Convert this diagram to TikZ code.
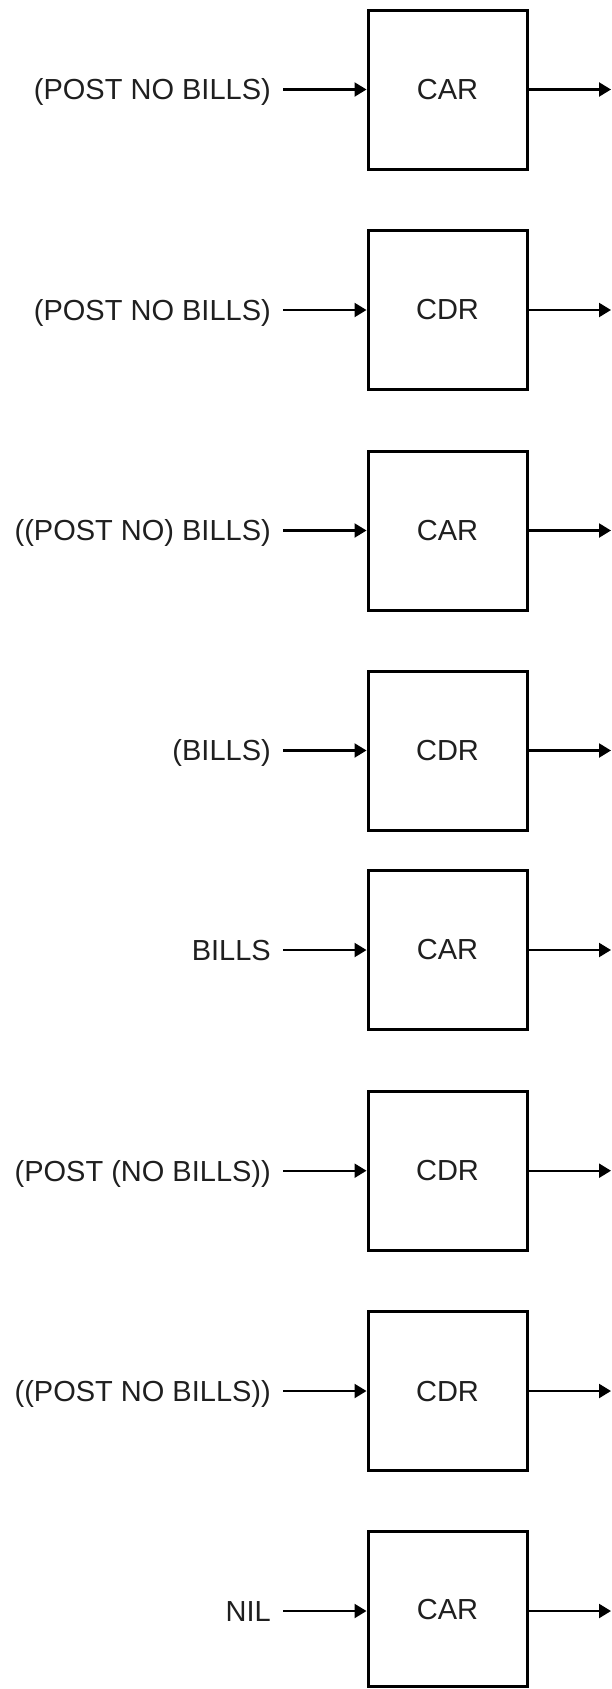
\documentclass[tikz,border=0pt]{standalone}
\usepackage{fontspec}
\setmainfont{Liberation Sans}
\usetikzlibrary{arrows.meta}
\begin{document}
\begin{tikzpicture}[x=1pt,y=-1pt,
  txt/.style={font=\fontsize{29}{34}\selectfont, text=black!88},
  box/.style={draw, line width=3pt, minimum width=159pt, minimum height=159pt, inner sep=0pt, txt},
  lbl/.style={anchor=base east, inner sep=0pt, txt},
  arr/.style={-{Triangle[length=12pt,width=14pt]}, line width=2.2pt}]
\useasboundingbox[fill=white] (0,0) rectangle (611,1689);
% row 1
\node[box] (b1) at (447.5,89.5) {CAR};
\node[lbl] (t1) at (271,99.9) {(POST NO BILLS)};
\coordinate (o1) at (611,89.5);
% row 2
\node[box] (b2) at (447.5,310) {CDR};
\node[lbl] (t2) at (271,320.4) {(POST NO BILLS)};
\coordinate (o2) at (611,310);
% row 3
\node[box] (b3) at (447.5,530.5) {CAR};
\node[lbl] (t3) at (271,540.9) {((POST NO) BILLS)};
\coordinate (o3) at (611,530.5);
% row 4
\node[box] (b4) at (447.5,750.5) {CDR};
\node[lbl] (t4) at (271,760.9) {(BILLS)};
\coordinate (o4) at (611,750.5);
% row 5
\node[box] (b5) at (447.5,950) {CAR};
\node[lbl] (t5) at (271,960.4) {BILLS};
\coordinate (o5) at (611,950);
% row 6
\node[box] (b6) at (447.5,1170.7) {CDR};
\node[lbl] (t6) at (271,1181.1) {(POST (NO BILLS))};
\coordinate (o6) at (611,1170.7);
% row 7
\node[box] (b7) at (447.5,1391) {CDR};
\node[lbl] (t7) at (271,1401.4) {((POST NO BILLS))};
\coordinate (o7) at (611,1391);
% row 8
\node[box, minimum height=155pt] (b8) at (447.5,1609) {CAR};
\node[lbl] (t8) at (271,1621.4) {NIL};
\coordinate (o8) at (611,1611);
\foreach \i in {1,...,7}{
  \draw[arr, shorten <=12pt] (t\i.east |- b\i.west) -- (b\i.west);
  \draw[arr] (b\i.east) -- (o\i);
}
\draw[arr, shorten <=12pt] (t8.east |- o8) -- (b8.west |- o8);
\draw[arr] (b8.east |- o8) -- (o8);
\end{tikzpicture}
\end{document}
